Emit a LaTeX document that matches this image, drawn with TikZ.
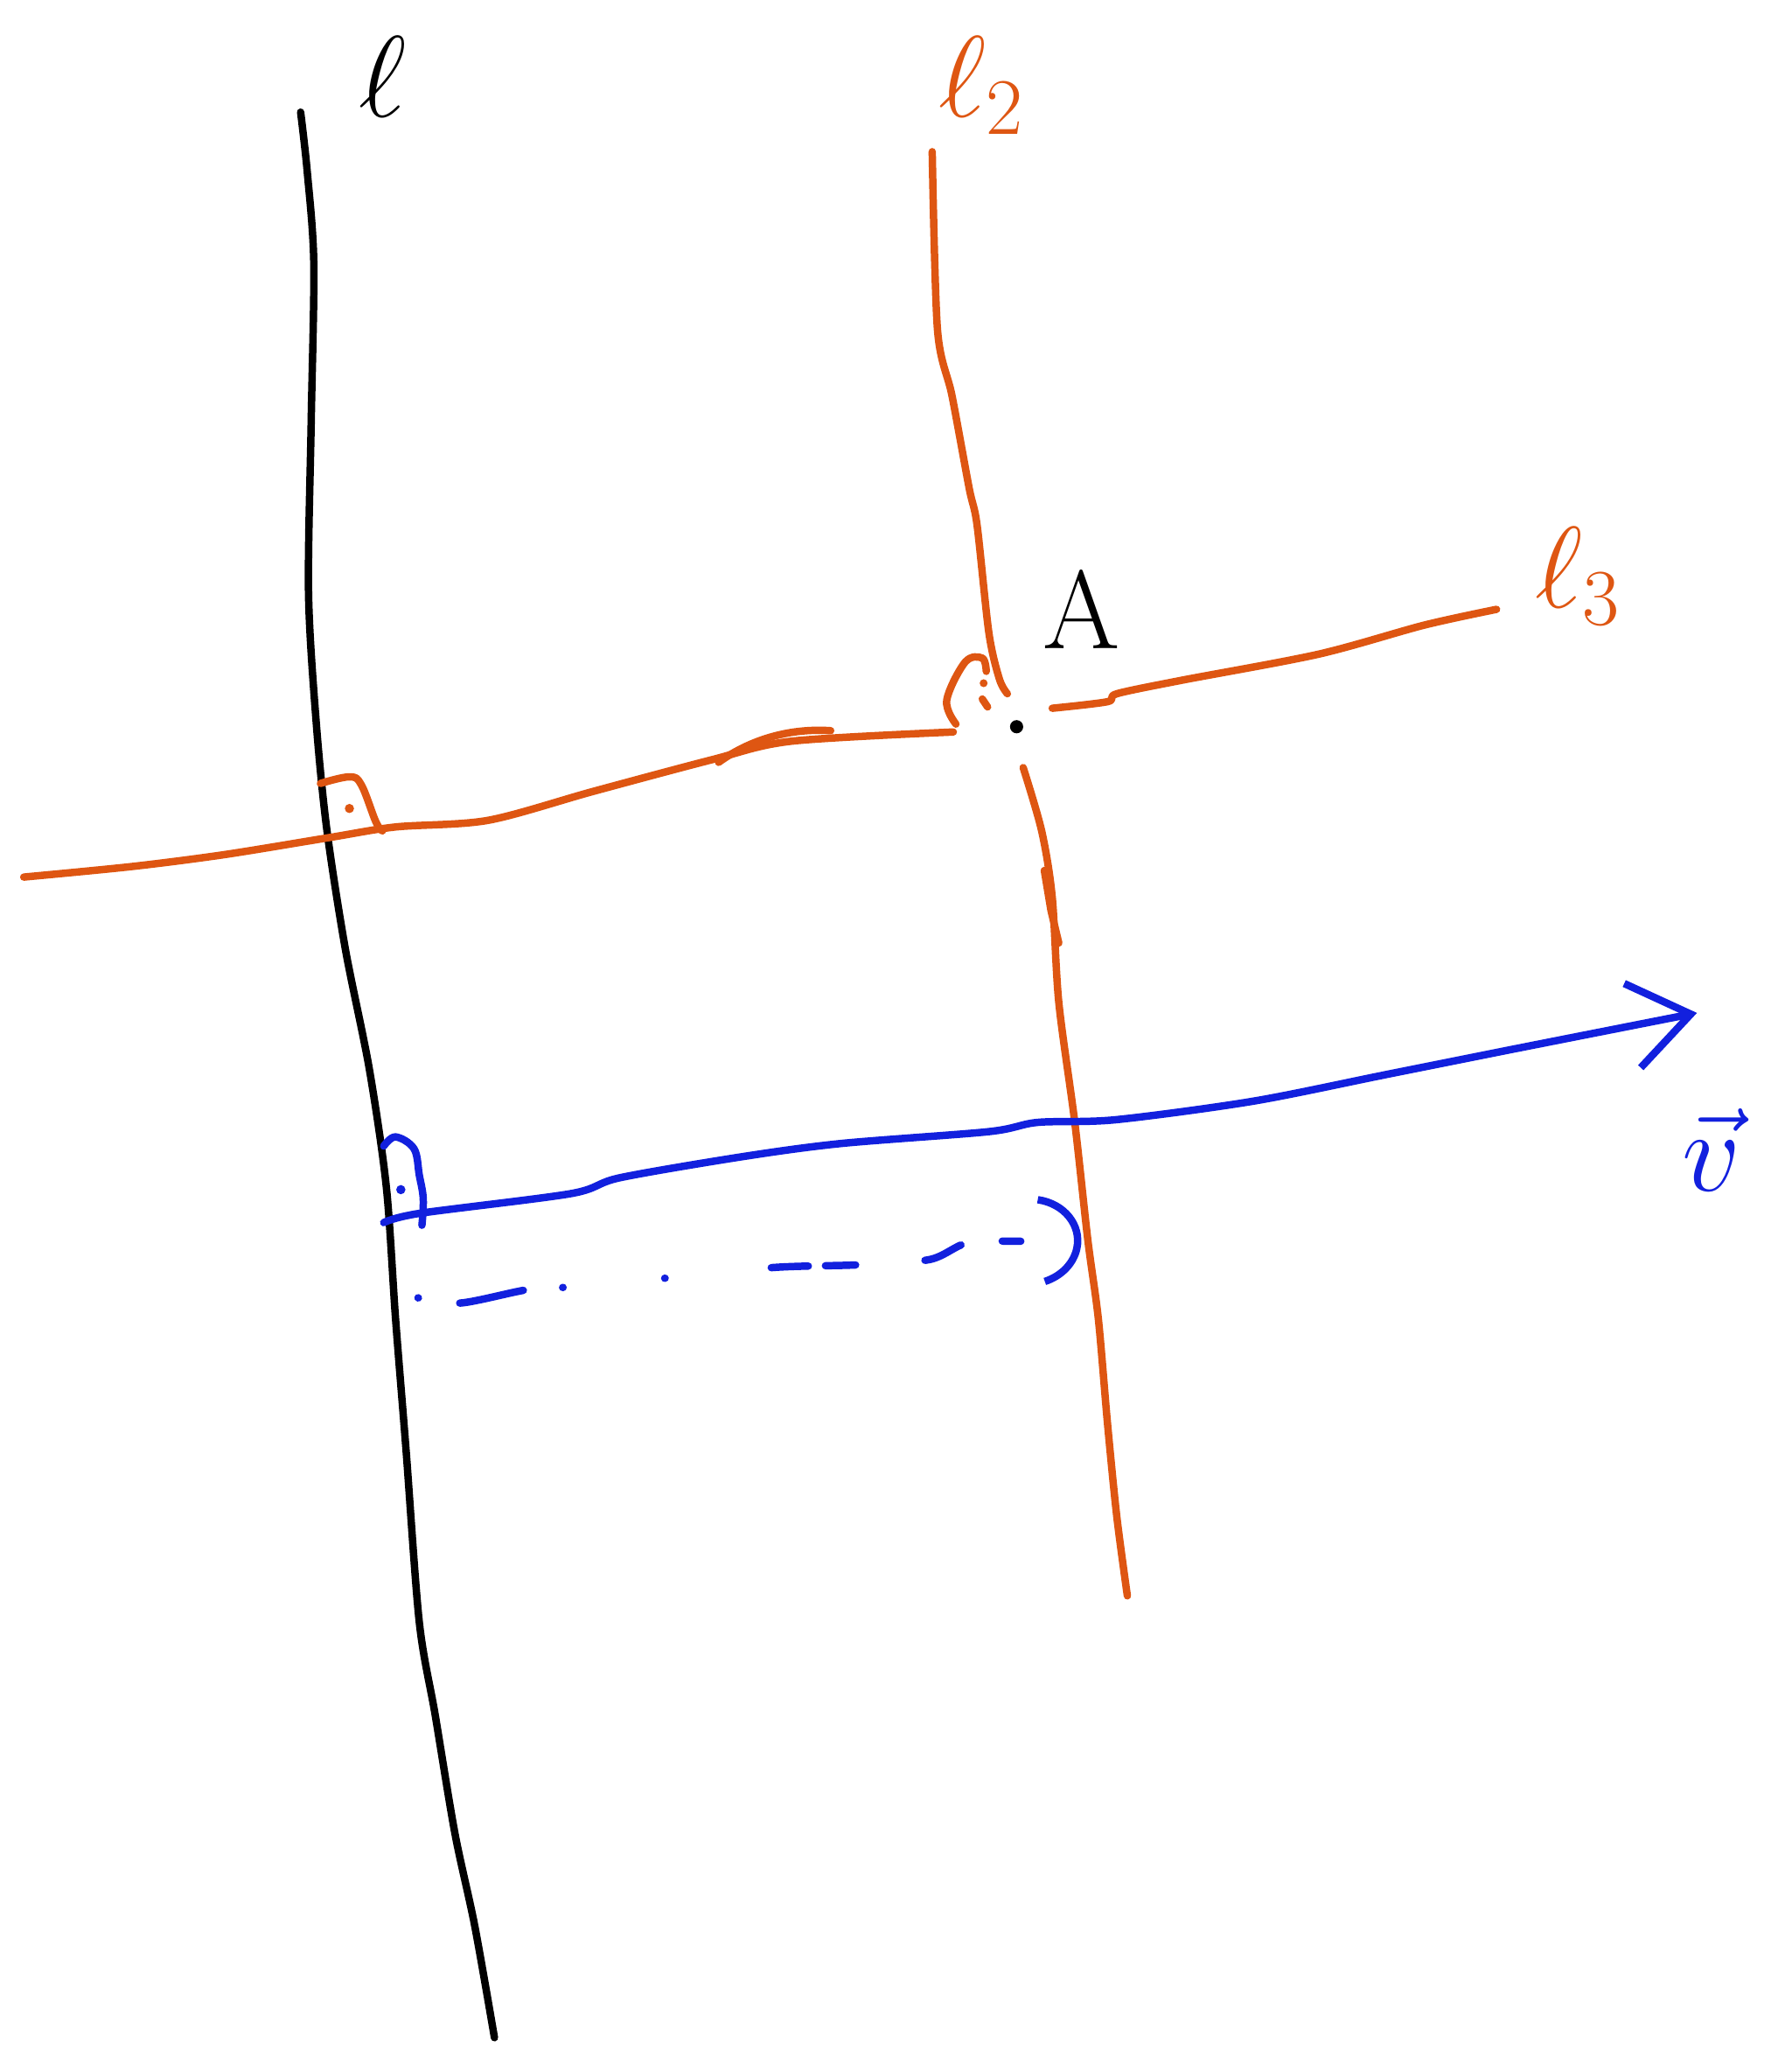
\documentclass[tikz,border=0pt]{standalone}
\usepackage{amsmath,amssymb}
\usetikzlibrary{arrows.meta,calc,positioning}
\definecolor{sketchorange}{RGB}{222,86,18}
\definecolor{sketchblue}{RGB}{18,32,222}
\tikzset{
  pen/.style={line width=1.6pt,line cap=round,line join=round},
  lbl/.style={font=\fontsize{24}{24}\selectfont,inner sep=0pt},
}
\begin{document}
\begin{tikzpicture}[x=0.01cm,y=-0.01cm,>={Straight Barb[length=4.5mm,width=6.5mm]}]
  \useasboundingbox (0,0) rectangle (1359,1568);
  % line l
  \coordinate (lTop) at (228,85);
  \coordinate (lBot) at (375,1545);
  \draw[pen] plot[smooth,tension=0.5] coordinates {(lTop) (233,130) (238,200) (236,320) (234,450) (240,550) (248,630) (262,720) (280,810) (293,900) (300,1000) (308,1100) (318,1230) (330,1300) (345,1390) (360,1460) (lBot)};
  \node[lbl] (lLabel) at (290,58) {$\ell$};
  % line l2
  \coordinate (ltwoTop) at (707,115);
  \coordinate (ltwoBot) at (855,1210);
  \draw[pen,sketchorange] plot[smooth,tension=0.5] coordinates {(ltwoTop) (711,250) (722,300) (735,370) (741,398) (750,480) (758,515) (764,526)};
  \draw[pen,sketchorange] plot[smooth,tension=0.5] coordinates {(776,582) (790,630) (798,680) (803,760) (815,850) (825,940) (833,1000) (840,1080) (847,1150) (ltwoBot)};
  \draw[pen,sketchorange] (792,660) -- (797,690) -- (803,715);
  \node[lbl,sketchorange] (ltwoLabel) at (745,65) {$\ell_2$};
  % line l3
  \coordinate (lthreeLeft) at (18,665);
  \coordinate (lthreeRight) at (1135,462);
  \draw[pen,sketchorange] plot[smooth,tension=0.5] coordinates {(lthreeLeft) (100,657) (170,648) (250,635) (300,627) (370,622) (450,600) (540,576) (600,562) (723,555)};
  \draw[pen,sketchorange] (545,578) .. controls (570,560) and (600,552) .. (630,554);
  \draw[pen,sketchorange] plot[smooth,tension=0.5] coordinates {(798,537) (840,532) (847,526) (895,516) (1000,496) (1080,474) (lthreeRight)};
  \node[lbl,sketchorange] (lthreeLabel) at (1197,437) {$\ell_3$};
  % right angle marks
  \draw[pen,sketchorange] plot[smooth,tension=0.6] coordinates {(243,594) (265,589) (274,595) (285,623) (290,630)};
  \fill[sketchorange] (265,613) circle (3.5);
  \draw[pen,sketchorange] plot[smooth,tension=0.6] coordinates {(725,549) (718,531) (732,502) (745,499) (748,509)};
  \fill[sketchorange] (746,518) circle (3);
  \draw[pen,sketchorange] (745,530) -- (749,536);
  % point A
  \fill (771,551) circle (5);
  \node[lbl] (A) at (820,462) {A};
  % vector v
  \coordinate (vStart) at (291,927);
  \coordinate (vEnd) at (1287,768);
  \draw[pen,sketchblue,->] plot[smooth,tension=0.5] coordinates {(vStart) (318,920) (433,905) (470,893) (563,877) (638,867) (750,858) (787,851) (846,849) (950,835) (1050,815) (1150,795) (vEnd)};
  \draw[pen,sketchblue] plot[smooth,tension=0.6] coordinates {(291,869) (300,862) (314,871) (318,891) (321,909) (320,929)};
  \fill[sketchblue] (304,902) circle (3.5);
  \node[lbl,sketchblue] (vLabel) at (1298,872) {$\vec{v}$};
  % dashed copy
  \coordinate (dStart) at (317,984);
  \coordinate (dEnd) at (820,938);
  \draw[pen,sketchblue,dash pattern=on 0.1pt off 9pt on 14pt off 8.5pt on 0.1pt off 22pt on 0.1pt off 23pt on 8pt off 3.7pt on 6.5pt off 15pt on 8.5pt off 9pt on 4pt off 20pt,-{Arc Barb[arc=150,length=4mm,width=7mm]}] plot[smooth,tension=0.5] coordinates {(dStart) (349,988) (399,978) (429,976) (506,969) (587,961) (651,959) (705,955) (735,942) (780,941) (dEnd)};
\end{tikzpicture}
\end{document}
